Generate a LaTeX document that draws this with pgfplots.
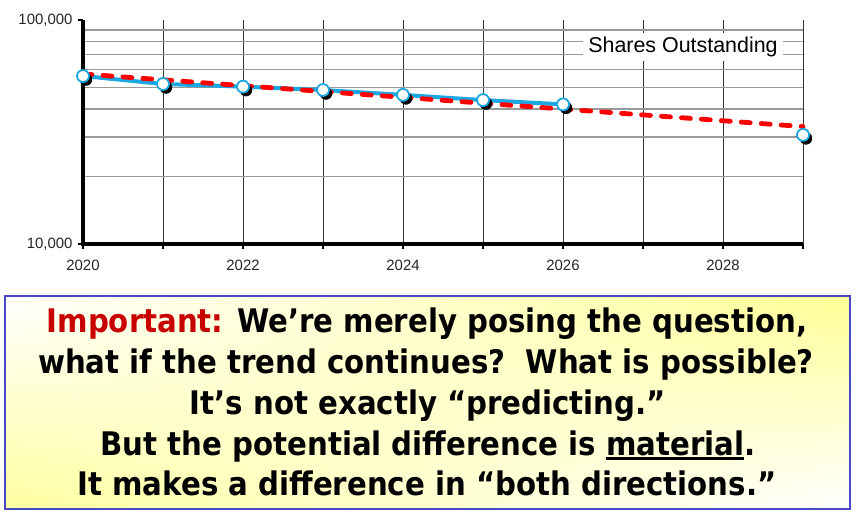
\documentclass[border=0pt]{standalone}
\usepackage{fontspec}
\setmainfont{Liberation Sans}
\newfontfamily\cond{DejaVu Sans Condensed}
\usepackage{pgfplots}
\pgfplotsset{compat=1.18}
\usetikzlibrary{shadings}
\definecolor{sblue}{RGB}{27,168,226}
\definecolor{boxblue}{RGB}{72,72,200}
\definecolor{impred}{RGB}{200,0,0}
\definecolor{lyel}{RGB}{255,255,150}
\newcommand\ul[1]{\setbox0\hbox{#1}\rlap{\rule[-4.5bp]{\wd0}{2.6bp}}\box0}
\begin{document}
\begin{tikzpicture}[x=1bp,y=1bp]
\path[use as bounding box,fill=white] (0,0) rectangle (856,-515);
\begin{axis}[
  at={(83bp,-244bp)}, anchor=south west,
  scale only axis, width=720bp, height=224bp,
  xmin=2020, xmax=2029, ymode=log, ymin=10000, ymax=100000,
  axis x line*=bottom, axis y line*=left,
  axis line style={black, line width=1bp},
  xtick={2020,2021,...,2029},
  xticklabels={2020,,2022,,2024,,2026,,2028,},
  ytick={10000,100000},
  yticklabels={{10,000},{100,000}},
  minor ytick={20000,30000,40000,50000,60000,70000,80000,90000},
  xmajorgrids, yminorgrids,
  major grid style={black!80, line width=0.9bp},
  minor grid style={black!40, line width=1.5bp},
  tick align=outside, major tick length=5bp, minor tick length=0bp,
  tick style={black, line width=2bp},
  /pgf/number format/assume math mode=true,
  ticklabel style={font=\fontsize{15}{15}\selectfont, text=black!85},
  xticklabel style={yshift=-8bp},
  yticklabel style={xshift=-2bp},
  clip=false,
]
\draw[black, line width=4.2bp] (rel axis cs:0,1) -- (rel axis cs:0,0) -- (rel axis cs:1,0);
% shadow marks
\addplot[only marks, mark=*, mark size=6bp, black,
  every mark/.append style={xshift=3bp, yshift=-3.5bp}]
  coordinates {(2020,56200) (2021,51800) (2022,50400) (2023,48700) (2024,46300) (2025,43900) (2026,42000) (2029,30700)};
% actual
\addplot[sblue, line width=4bp, mark=*, mark size=6bp,
  mark options={fill=white, draw=sblue, line width=1.8bp}]
  coordinates {(2020,56200) (2021,51800) (2022,50400) (2023,48700) (2024,46300) (2025,43900) (2026,42000)};
% trend
\addplot[red, line width=4.8bp, line cap=round, dash pattern=on 9bp off 11bp]
  coordinates {(2020,57400) (2021,54050) (2022,50900) (2023,47940) (2024,45150) (2025,42510) (2026,40030) (2027,37700) (2028,35500) (2029,33430)};
% projected point
\addplot[only marks, mark=*, mark size=6bp,
  mark options={fill=white, draw=sblue, line width=1.8bp}]
  coordinates {(2029,30700)};
\end{axis}
\node[fill=white, inner xsep=5bp, inner ysep=4bp, font=\fontsize{21.5}{21.5}\selectfont] at (683,-47) {Shares Outstanding};
% text box
\shade[upper left=white, upper right=lyel, lower left=lyel!90, lower right=white] (5,-296) rectangle (850,-509);
\draw[boxblue, line width=1.2bp] (5,-296) rectangle (850,-509);
\begin{scope}[every node/.style={anchor=base, inner sep=0pt, font=\cond\bfseries\fontsize{32.6}{32.6}\selectfont}]
\node at (427,-333) {{\color{impred}Important:} We’re merely posing the question,};
\node at (426,-373.5) {what if the trend continues?\ \ What is possible?};
\node at (428,-414.5) {It’s not exactly “predicting.”};
\node at (428,-455.5) {But the potential difference is \ul{material}.};
\node at (427,-495) {It makes a difference in “both directions.”};
\end{scope}
\end{tikzpicture}
\end{document}
